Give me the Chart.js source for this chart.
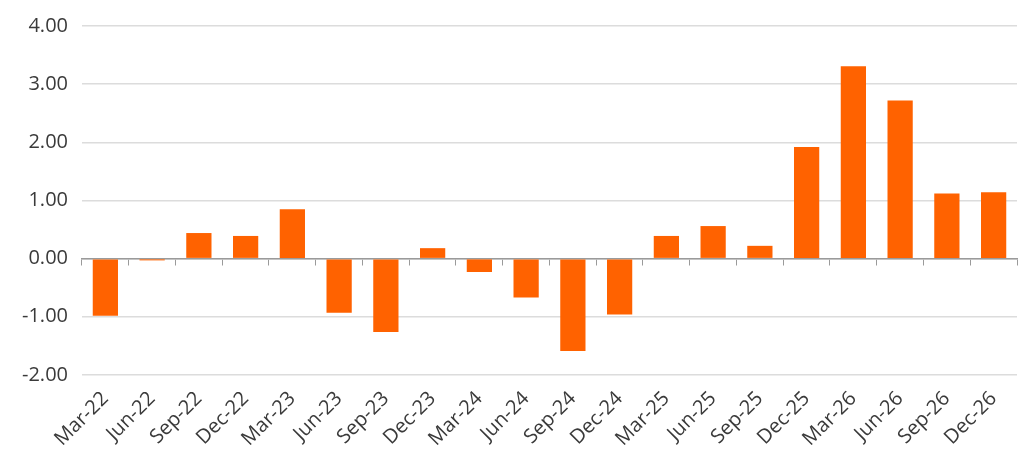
<!DOCTYPE html>
<html>
<head>
<meta charset="utf-8">
<script src="https://cdn.jsdelivr.net/npm/chart.js@4"></script>
<style>
  html, body { margin: 0; padding: 0; background: #fff; }
  #wrap { width: 1024px; height: 474px; }
</style>
</head>
<body>
<div id="wrap"><canvas id="barChart"></canvas></div>
<script>
const quarters = ['Mar-22', 'Jun-22', 'Sep-22', 'Dec-22', 'Mar-23', 'Jun-23', 'Sep-23', 'Dec-23',
    'Mar-24', 'Jun-24', 'Sep-24', 'Dec-24', 'Mar-25', 'Jun-25', 'Sep-25', 'Dec-25',
    'Mar-26', 'Jun-26', 'Sep-26', 'Dec-26'];
const values = [-0.98, -0.03, 0.44, 0.39, 0.85, -0.93, -1.26, 0.18,
    -0.23, -0.67, -1.59, -0.96, 0.39, 0.56, 0.22, 1.92,
    3.31, 2.72, 1.12, 1.14];
const yMin = -2;
const yMax = 4;
const yStep = 1;

const ctx = document.getElementById('barChart').getContext('2d');
new Chart(ctx, {
    type: 'bar',
    data: {
        labels: quarters,
        datasets: [{
            data: values,
            backgroundColor: '#FF6200',
            barPercentage: 0.54,
            categoryPercentage: 1.0
        }]
    },
    options: {
        responsive: true,
        maintainAspectRatio: false,
        animation: false,
        layout: { padding: { top: 2, right: 7, left: 8, bottom: 19 } },
        plugins: {
            legend: { display: false },
            tooltip: { enabled: false }
        },
        scales: {
            x: {
                grid: { display: false },
                border: { display: false },
                ticks: {
                    color: '#3a3a3a',
                    font: { family: 'Open Sans', size: 20 },
                    minRotation: 45,
                    maxRotation: 45,
                    padding: 4
                }
            },
            x2: {
                type: 'category',
                labels: quarters,
                position: { y: 0 },
                offset: true,
                grid: {
                    offset: true,
                    drawOnChartArea: false,
                    drawTicks: true,
                    tickLength: 6,
                    color: '#9a9a9a'
                },
                border: { display: true, color: '#9a9a9a', width: 1.5 },
                ticks: { display: false }
            },
            y: {
                min: yMin,
                max: yMax,
                border: { display: false },
                grid: {
                    color: '#dcdcdc',
                    lineWidth: 1.5,
                    drawTicks: false
                },
                ticks: {
                    stepSize: yStep,
                    color: '#3a3a3a',
                    padding: 14,
                    font: { family: 'Open Sans', size: 20 },
                    callback: (value) => value.toFixed(2)
                }
            }
        }
    }
});
</script>
</body>
</html>
